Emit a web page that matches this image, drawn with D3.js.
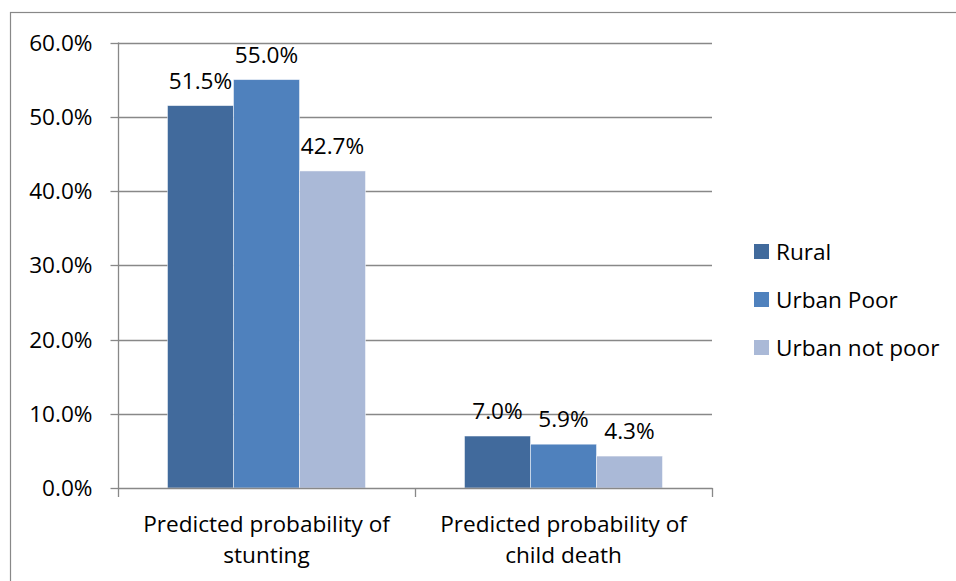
<!DOCTYPE html>
<html><head><meta charset="utf-8">
<script src="https://cdn.jsdelivr.net/npm/d3@7/dist/d3.min.js"></script>
<style>body{margin:0;background:#fff}svg{display:block}text{font-family:"Open Sans",sans-serif;fill:#000}</style>
</head><body>
<svg id="c" width="956" height="581"></svg>
<script>
const categories = [["Predicted probability of","stunting"],["Predicted probability of","child death"]];
const seriesNames = ["Rural","Urban Poor","Urban not poor"];
const rural = [51.5, 7.0];
const urbanPoor = [55.0, 5.9];
const urbanNotPoor = [42.7, 4.3];
const yTicks = [0,10,20,30,40,50,60];
const colors = ["#416A9C","#4F81BD","#AAB9D7"];

const series = [rural, urbanPoor, urbanNotPoor];
const svg = d3.select("#c");
const L = 118, R = 712, T = 42.5, B = 488;
const fs = 22.6;

svg.append("rect").attr("x",10.5).attr("y",12.5).attr("width",1000).attr("height",1000)
  .attr("fill","none").attr("stroke","#888").attr("stroke-width",1.2);

const y = d3.scaleLinear().domain([0,60]).range([B,T]);
const x0 = d3.scaleBand().domain(d3.range(categories.length)).range([L,R]).paddingInner(0).paddingOuter(0);
const x1 = d3.scaleBand().domain(d3.range(3)).range([x0.bandwidth()*0.75/4.5, x0.bandwidth() - x0.bandwidth()*0.75/4.5]);

// gridlines
svg.append("g").selectAll("line").data(yTicks.filter(d=>d>0)).join("line")
  .attr("x1",L).attr("x2",R).attr("y1",d=>Math.round(y(d))+0.5).attr("y2",d=>Math.round(y(d))+0.5)
  .attr("stroke","#888").attr("stroke-width",1.3);

// y axis
const yAxis = d3.axisLeft(y).tickValues(yTicks).tickSize(8).tickPadding(18).tickFormat(d=>d.toFixed(1)+"%");
const gy = svg.append("g").attr("transform",`translate(${L+0.5},0)`).call(yAxis);
gy.selectAll("line,path").attr("stroke","#888").attr("stroke-width",1.3);
gy.select(".domain").attr("d",`M0,${B+0.5}V${T}`);
gy.selectAll(".tick").attr("transform",d=>`translate(0,${Math.round(y(d))+0.5})`);
gy.selectAll("text").attr("font-size",fs).attr("font-family","Open Sans").attr("fill","#000").attr("dy","0.34em");

// bars
const groups = svg.append("g").selectAll("g").data(categories).join("g")
  .attr("transform",(d,i)=>`translate(${x0(i)},0)`);
groups.selectAll("rect").data((d,i)=>series.map((s,j)=>({j,v:s[i]}))).join("rect")
  .attr("x",d=>x1(d.j)).attr("width",x1.bandwidth())
  .attr("y",d=>y(d.v)).attr("height",d=>B-y(d.v))
  .attr("fill",d=>colors[d.j]).attr("stroke","#fff").attr("stroke-opacity",0.6).attr("stroke-width",0.8);
groups.selectAll("text.v").data((d,i)=>series.map((s,j)=>({j,v:s[i]}))).join("text").attr("class","v")
  .attr("x",d=>x1(d.j)+x1.bandwidth()/2).attr("y",d=>y(d.v)-17)
  .attr("text-anchor","middle").attr("font-size",fs).text(d=>d.v.toFixed(1)+"%");

// x axis
const xAxis = d3.axisBottom(x0).tickSize(0).tickFormat("");
const gx = svg.append("g").attr("transform",`translate(0,${B+0.5})`).call(xAxis);
gx.select(".domain").attr("d",`M${L},0H${R+0.5}`).attr("stroke","#888").attr("stroke-width",1.3);
gx.selectAll(".tick").remove();
svg.append("g").selectAll("line").data([L, x0(1), R]).join("line")
  .attr("x1",d=>Math.round(d)+0.5).attr("x2",d=>Math.round(d)+0.5).attr("y1",B).attr("y2",B+9)
  .attr("stroke","#888").attr("stroke-width",1.3);
const xl = svg.append("g").selectAll("text").data(categories).join("text")
  .attr("text-anchor","middle").attr("font-size",fs)
  .attr("transform",(d,i)=>`translate(${x0(i)+x0.bandwidth()/2},0)`);
xl.selectAll("tspan").data(d=>d).join("tspan").attr("x",0).attr("y",(d,k)=>532+k*31).text(d=>d);

// legend
const lg = svg.append("g").selectAll("g").data(seriesNames).join("g")
  .attr("transform",(d,i)=>`translate(754,${244+i*48})`);
lg.append("rect").attr("width",15).attr("height",15).attr("fill",(d,i)=>colors[i]);
lg.append("text").attr("x",22).attr("y",15.5).attr("font-size",fs).text(d=>d);
</script>
</body></html>
